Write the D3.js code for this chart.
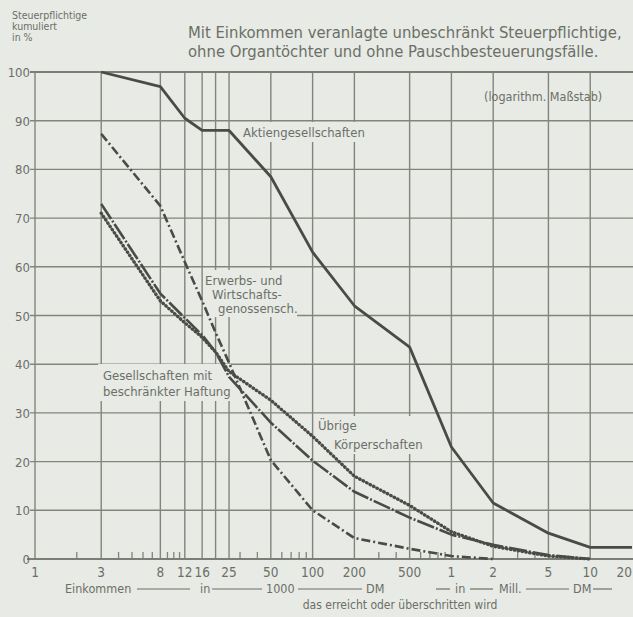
<!DOCTYPE html>
<html><head><meta charset="utf-8">
<script src="https://cdn.jsdelivr.net/npm/d3@7"></script>
<style>
html,body{margin:0;padding:0;background:#e7eae5;}
svg{display:block;}
text{font-family:'Liberation Sans Narrow','DejaVu Sans Condensed','Roboto',sans-serif;fill:#6c6f67;}
</style></head><body>
<svg id="c" width="633" height="617"></svg>
<script>
// ---- data ----
const xValues   = [3, 8, 12, 16, 20, 25, 50, 100, 200, 500, 1000, 2000, 5000, 10000, 20000];
const aktien    = [100, 97, 90.5, 88, 88, 88, 78.5, 63, 52, 43.5, 23, 11.5, 5.3, 2.4, 2.4];
const erwerbs   = [87.3, 72.5, 61, 53, 46.5, 40.3, 20.3, 10, 4.3, 2.1, 0.6, 0];
const gmbh      = [72.9, 54.5, 49.5, 46, 42.5, 37.4, 28, 20.2, 13.8, 8.5, 5, 2.9, 0.8, 0];
const uebrige   = [71, 53, 48.5, 45.5, 42.5, 38.5, 32.6, 25.2, 17, 11, 5.6, 2.6, 0.6, 0];
const gridX     = [1, 3, 8, 12, 16, 20, 25, 50, 100, 200, 500, 1000, 2000, 5000, 10000];
const tickVals  = [1, 3, 8, 12, 16, 25, 50, 100, 200, 500, 1000, 2000, 5000, 10000, 20000];
const tickText  = ["1","3","8","12","16","25","50","100","200","500","1","2","5","10","20"];
const minorX    = [2, 4, 5, 6, 7, 9, 10, 11, 30, 40, 60, 70, 80, 90, 300, 400, 600, 700, 800, 900, 3000, 4000];
const yTicks    = [0, 10, 20, 30, 40, 50, 60, 70, 80, 90, 100];

const svg = d3.select("#c");
const x = d3.scaleLog().domain([1, 20000]).range([35, 632]);
const y = d3.scaleLinear().domain([0, 100]).range([559, 72]);
const ink = "#4a4b47", gridC = "#82857c";

// grid
const g = svg.append("g");
g.selectAll("line.h").data(yTicks).join("line")
  .attr("x1", 30).attr("x2", 633).attr("y1", d => y(d)).attr("y2", d => y(d))
  .attr("stroke", gridC).attr("stroke-width", 1.4);
g.selectAll("line.v").data(gridX).join("line")
  .attr("x1", d => x(d)).attr("x2", d => x(d)).attr("y1", y(100)).attr("y2", y(0))
  .attr("stroke", gridC).attr("stroke-width", 1.4);
g.selectAll("line.m").data(minorX).join("line")
  .attr("x1", d => x(d)).attr("x2", d => x(d)).attr("y1", y(0)).attr("y2", y(0) - 7)
  .attr("stroke", gridC).attr("stroke-width", 1.3);
g.append("line").attr("x1", 27).attr("x2", 633).attr("y1", y(0)).attr("y2", y(0)).attr("stroke", "#7b7e76").attr("stroke-width", 1.8);
g.append("line").attr("x1", 30).attr("x2", 633).attr("y1", y(100)).attr("y2", y(100)).attr("stroke", "#7b7e76").attr("stroke-width", 1.8);

// label background boxes (interrupt grid)
const boxes = [[240, 122, 130, 20], [203, 270, 94, 47], [98, 364, 133, 37], [315, 416, 110, 38]];
svg.selectAll("rect.bg").data(boxes).join("rect")
  .attr("x", d => d[0]).attr("y", d => d[1]).attr("width", d => d[2]).attr("height", d => d[3])
  .attr("fill", "#e7eae5");

// y labels
svg.selectAll("text.yl").data(yTicks).join("text")
  .attr("x", 30).attr("y", d => y(d) + 5).attr("text-anchor", "end")
  .attr("font-size", 13).text(d => d);
// x labels
svg.selectAll("text.xl").data(tickVals).join("text")
  .attr("x", (d, i) => i === tickVals.length - 1 ? 632 : x(d)).attr("y", 577)
  .attr("text-anchor", (d, i) => i === tickVals.length - 1 ? "end" : "middle")
  .attr("font-size", 13.5).text((d, i) => tickText[i]);

// series
const line = d3.line().x(d => x(d[0])).y(d => y(d[1]));
function draw(vals, dash, w, cap) {
  const pts = vals.map((v, i) => [xValues[i], v]);
  svg.append("path").attr("d", line(pts)).attr("fill", "none")
    .attr("stroke", ink).attr("stroke-width", w)
    .attr("stroke-dasharray", dash).attr("stroke-linecap", cap || "butt")
    .attr("stroke-linejoin", "round");
}
draw(aktien, null, 2.8);
draw(erwerbs, "9,3,2,3", 2.6);
draw(gmbh, "18,2,2,2", 2.6);
draw(uebrige, "0.5,3.4", 3.3, "round");

// labels
function txt(s, xx, yy, size, anchor) {
  svg.append("text").attr("x", xx).attr("y", yy).attr("font-size", size)
    .attr("text-anchor", anchor || "start").text(s);
}
txt("Aktiengesellschaften", 243, 137, 13);
txt("Erwerbs- und", 205, 285, 13);
txt("Wirtschafts-", 212, 299, 13);
txt("genossensch.", 218, 313, 13);
txt("Gesellschaften mit", 103, 380, 13);
txt("beschränkter Haftung", 103, 396, 13);
txt("Übrige", 318, 430, 13);
txt("Körperschaften", 334, 449, 13);
txt("(logarithm. Maßstab)", 484, 101, 12.5);

txt("Steuerpflichtige", 12, 19, 10.5);
txt("kumuliert", 12, 30, 10.5);
txt("in %", 12, 41, 10.5);
txt("Mit Einkommen veranlagte unbeschränkt Steuerpflichtige,", 188, 38, 16.5);
txt("ohne Organtöchter und ohne Pauschbesteuerungsfälle.", 188, 57, 16.5);

// bottom caption
const by = 593;
txt("Einkommen", 65, by, 12.5);
txt("in", 200, by, 12.5);
txt("1000", 266, by, 12.5);
txt("DM", 366, by, 12.5);
txt("in", 455, by, 12.5);
txt("Mill.", 499, by, 12.5);
txt("DM", 573, by, 12.5);
const segs = [[137, 190], [212, 262], [298, 362], [436, 450], [470, 493], [526, 569], [593, 612]];
svg.selectAll("line.cap").data(segs).join("line")
  .attr("x1", d => d[0]).attr("x2", d => d[1]).attr("y1", by - 4).attr("y2", by - 4)
  .attr("stroke", "#6c6f67").attr("stroke-width", 1.2);
txt("das erreicht oder überschritten wird", 400, 609, 12, "middle");
</script></body></html>
